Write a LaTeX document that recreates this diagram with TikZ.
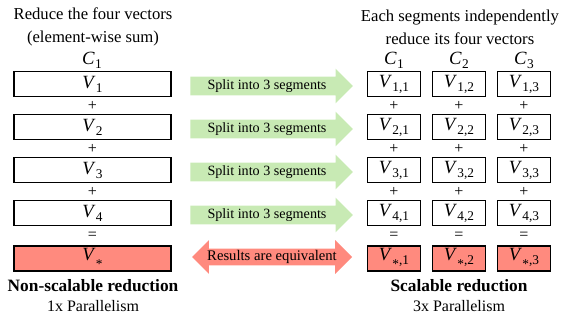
\documentclass[tikz,border=0pt]{standalone}
\usepackage{fontspec}
\setmainfont{Liberation Serif}
\usetikzlibrary{shapes.arrows}
\definecolor{splitgreen}{RGB}{200,234,180}
\definecolor{sumred}{RGB}{255,138,126}
\newcommand{\lbl}[2]{{\fontsize{14}{16}\selectfont\textit{#1}}\kern0.3pt\raisebox{-0.55ex}{\fontsize{10}{11}\selectfont #2}}
\newcommand{\astx}{\raisebox{-0.6ex}{*}}
\begin{document}
\begin{tikzpicture}[x=0.75pt, y=0.75pt,
  every node/.style={font=\fontsize{12}{16.5}\selectfont, inner sep=0pt},
  vbox/.style={draw, line width=0.8pt, minimum height=18.75pt},
  splitarrow/.style={single arrow, fill=splitgreen, minimum height=122pt,
    single arrow head extend=6pt, text height=7.5pt, text depth=2.3pt, inner ysep=1.85pt,
    font=\fontsize{10.6}{12}\selectfont}]
\useasboundingbox (0,0) rectangle (564,-320);
% titles
\node[align=center, font=\fontsize{12.5}{17}\selectfont] (ltitle) at (93,-27) {Reduce the four vectors\\(element-wise sum)};
\node[align=center, font=\fontsize{12.5}{17}\selectfont] (rtitle) at (460,-27) {Each segments independently\\reduce its four vectors};
\node (lc) at (92,-60) {\lbl{C}{1}};
\foreach \j/\x in {1/394,2/459,3/524}
  \node (rc\j) at (\x,-60) {\lbl{C}{\j}};
% vector rows
\foreach \i/\y in {1/84,2/127,3/170,4/213} {
  \node[vbox, minimum width=117.75pt] (l\i) at (92.5,-\y) {\lbl{V}{\i}};
  \foreach \j/\x in {1/394,2/459,3/524}
    \node[vbox, minimum width=39.75pt] (r\i\j) at (\x,-\y) {\lbl{V}{\i,\j}};
  \node[splitarrow] (split\i) at (267,-\y-2) {Split into 3 segments};
}
% results
\node[vbox, fill=sumred, minimum width=117.75pt] (ls) at (92.5,-258.5) {\lbl{V}{\astx}};
\foreach \j/\x in {1/394,2/459,3/524}
  \node[vbox, fill=sumred, minimum width=39.75pt] (rs\j) at (\x,-258.5) {\lbl{V}{\astx,\j}};
\node[double arrow, fill=sumred, minimum height=120pt, double arrow head extend=6.4pt,
  text height=7.6pt, text depth=2.4pt, inner ysep=1.1pt, font=\fontsize{11}{12}\selectfont]
  (equiv) at (272,-257) {Results are equivalent};
% plus and equal signs
\foreach \i/\n in {1/2,2/3,3/4} {
  \path (l\i.south) -- (l\n.north) node[midway] (lp\i) {+};
  \foreach \j in {1,2,3}
    \path (r\i\j.south) -- (r\n\j.north) node[midway] (rp\i\j) {+};
}
\path (l4.south) -- (ls.north) node[midway] (leq) {=};
\foreach \j in {1,2,3}
  \path (r4\j.south) -- (rs\j.north) node[midway] (req\j) {=};
% captions
\node[font=\fontsize{13}{15}\selectfont\bfseries] (lname) at (93,-286) {Non-scalable reduction};
\node (lpar) at (93,-306) {1x Parallelism};
\node[font=\fontsize{13}{15}\selectfont\bfseries] (rname) at (459,-286) {Scalable reduction};
\node (rpar) at (459,-306) {3x Parallelism};
\end{tikzpicture}
\end{document}
